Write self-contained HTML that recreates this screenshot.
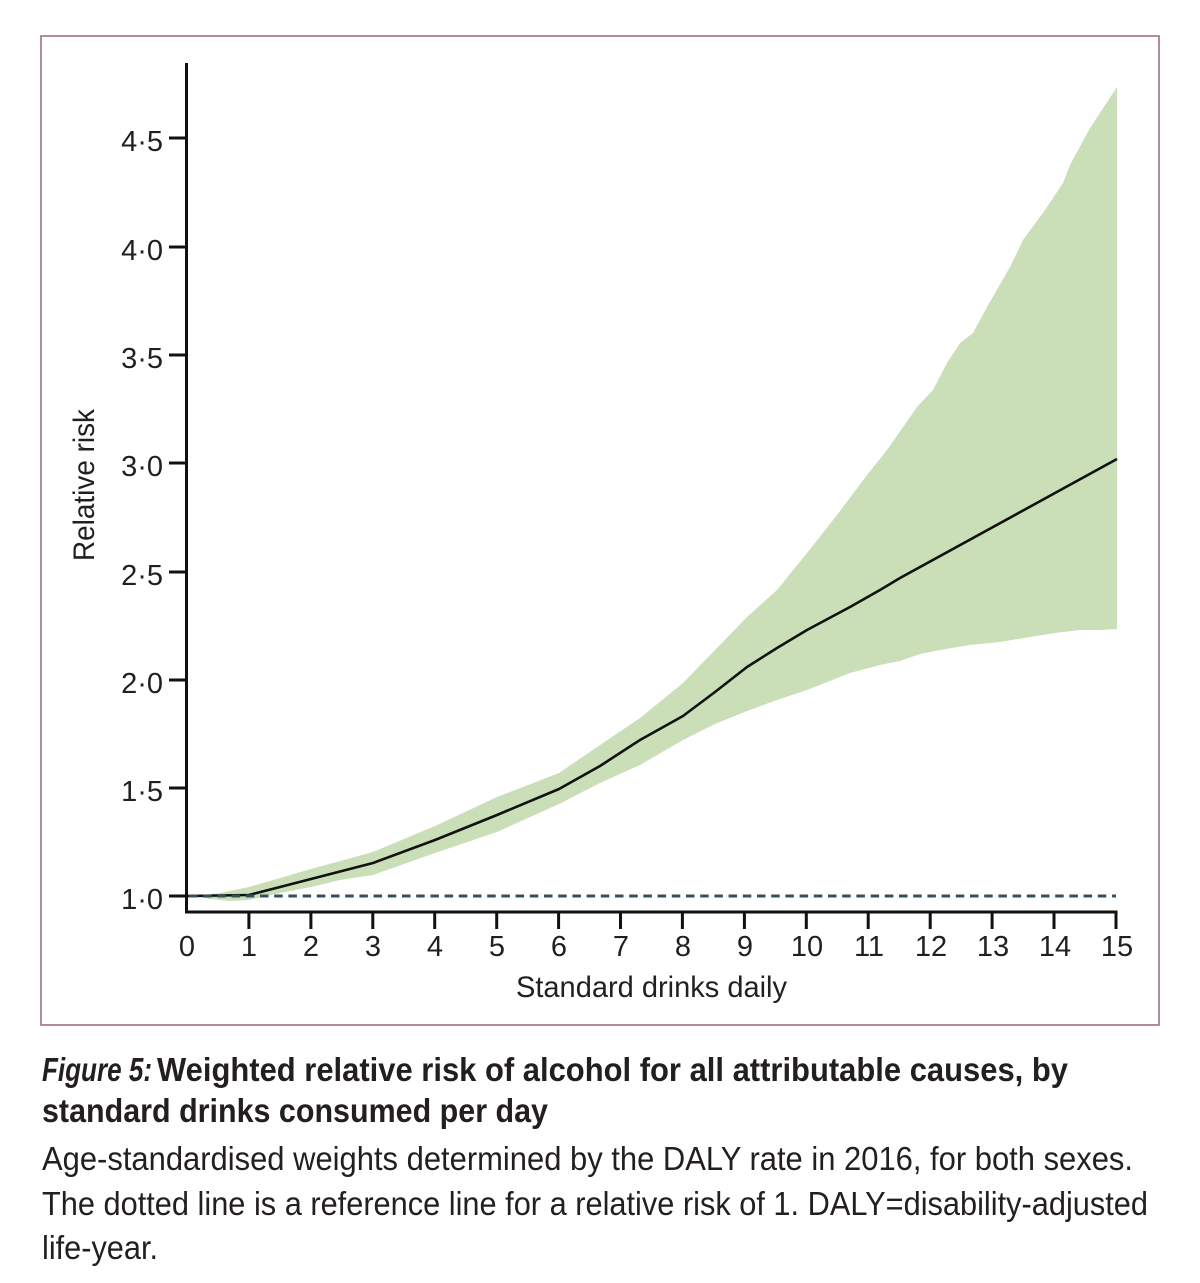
<!DOCTYPE html>
<html>
<head>
<meta charset="utf-8">
<style>
  html,body{margin:0;padding:0;background:#ffffff;}
  svg{display:block;}
  text{font-family:"Liberation Sans", Arial, sans-serif; fill:#231f20;}
</style>
</head>
<body>
<svg width="1200" height="1283" viewBox="0 0 1200 1283" xmlns="http://www.w3.org/2000/svg">
  <rect x="0" y="0" width="1200" height="1283" fill="#ffffff"/>
  <!-- frame -->
  <rect x="41" y="36" width="1118" height="989" fill="none" stroke="#a1707a" stroke-width="1.6"/>

  <!-- uncertainty band -->
  <path fill="#cadfb7" d="M197,896 L220,893 L249,887 L280,878 L311,869 L373,852 L435,826 L497,797 L559,773 L600,745 L640,718 L683,683 L715,650 L747,617 L777,590 L807,553 L837,515 L867,475 L887,450 L917,407 L933,390 L947,363 L960,343 L973,333 L987,307 L1010,267 L1023,240 L1045,210 L1063,183 L1070,165 L1090,128 L1117,87
  L1117,629 L1100,630 L1080,630 L1055,633 L1030,637 L1000,642 L970,645 L940,650 L920,654 L900,661 L880,665 L850,673 L807,690 L777,700 L747,711 L715,724 L683,740 L640,765 L600,783 L559,804 L497,832 L435,853 L373,875 L340,880 L311,887 L280,893 L249,900 L230,901 L210,899 L197,897 Z"/>

  <!-- main line -->
  <polyline fill="none" stroke="#111111" stroke-width="2.6" stroke-linejoin="round"
    points="187,896 249,895 280,887 311,879 373,863 435,840 497,815 559,789 600,766 640,740 683,716 715,692 747,667 777,648 807,630 850,607 880,590 900,578 1117,459"/>

  <!-- reference dashed line -->
  <line x1="189" y1="896" x2="1116" y2="896" stroke="#34505e" stroke-width="3" stroke-dasharray="8.5 5.7"/>

  <!-- axes -->
  <line x1="186.5" y1="63" x2="186.5" y2="913.5" stroke="#111" stroke-width="3"/>
  <line x1="185" y1="912" x2="1117.5" y2="912" stroke="#111" stroke-width="3"/>

  <!-- y ticks -->
  <g stroke="#111" stroke-width="3">
    <line x1="169" y1="896" x2="186" y2="896"/>
    <line x1="169" y1="788" x2="186" y2="788"/>
    <line x1="169" y1="680" x2="186" y2="680"/>
    <line x1="169" y1="572" x2="186" y2="572"/>
    <line x1="169" y1="463" x2="186" y2="463"/>
    <line x1="169" y1="355" x2="186" y2="355"/>
    <line x1="169" y1="247" x2="186" y2="247"/>
    <line x1="169" y1="138" x2="186" y2="138"/>
  </g>
  <g font-size="29" text-anchor="end">
    <text x="163" y="909">1·0</text>
    <text x="163" y="801">1·5</text>
    <text x="163" y="693">2·0</text>
    <text x="163" y="585">2·5</text>
    <text x="163" y="476">3·0</text>
    <text x="163" y="368">3·5</text>
    <text x="163" y="260">4·0</text>
    <text x="163" y="151">4·5</text>
  </g>

  <!-- x ticks -->
  <g stroke="#111" stroke-width="3">
    <line x1="248.9" y1="912" x2="248.9" y2="929"/>
    <line x1="310.9" y1="912" x2="310.9" y2="929"/>
    <line x1="372.8" y1="912" x2="372.8" y2="929"/>
    <line x1="434.7" y1="912" x2="434.7" y2="929"/>
    <line x1="496.7" y1="912" x2="496.7" y2="929"/>
    <line x1="558.6" y1="912" x2="558.6" y2="929"/>
    <line x1="620.5" y1="912" x2="620.5" y2="929"/>
    <line x1="682.4" y1="912" x2="682.4" y2="929"/>
    <line x1="744.4" y1="912" x2="744.4" y2="929"/>
    <line x1="806.3" y1="912" x2="806.3" y2="929"/>
    <line x1="868.2" y1="912" x2="868.2" y2="929"/>
    <line x1="930.2" y1="912" x2="930.2" y2="929"/>
    <line x1="992.1" y1="912" x2="992.1" y2="929"/>
    <line x1="1054" y1="912" x2="1054" y2="929"/>
    <line x1="1116" y1="910.5" x2="1116" y2="929"/>
  </g>
  <g font-size="29" text-anchor="middle">
    <text x="187" y="956">0</text>
    <text x="249" y="956">1</text>
    <text x="311" y="956">2</text>
    <text x="373" y="956">3</text>
    <text x="435" y="956">4</text>
    <text x="497" y="956">5</text>
    <text x="559" y="956">6</text>
    <text x="621" y="956">7</text>
    <text x="683" y="956">8</text>
    <text x="745" y="956">9</text>
    <text x="807" y="956">10</text>
    <text x="869" y="956">11</text>
    <text x="931" y="956">12</text>
    <text x="993" y="956">13</text>
    <text x="1055" y="956">14</text>
    <text x="1117" y="956">15</text>
  </g>

  <!-- axis titles -->
  <text x="516" y="997" font-size="30" textLength="271" lengthAdjust="spacingAndGlyphs">Standard drinks daily</text>
  <text transform="translate(94,561) rotate(-90)" x="0" y="0" font-size="30" textLength="152" lengthAdjust="spacingAndGlyphs">Relative risk</text>

  <!-- caption -->
  <text x="42" y="1081" font-size="33" font-style="italic" font-weight="bold" textLength="110" lengthAdjust="spacingAndGlyphs">Figure 5:</text>
  <text x="157" y="1081" font-size="33" font-weight="bold" textLength="911" lengthAdjust="spacingAndGlyphs">Weighted relative risk of alcohol for all attributable causes, by</text>
  <text x="42" y="1122" font-size="33" font-weight="bold" textLength="506" lengthAdjust="spacingAndGlyphs">standard drinks consumed per day</text>
  <text x="42" y="1170" font-size="33" textLength="1091" lengthAdjust="spacingAndGlyphs">Age-standardised weights determined by the DALY rate in 2016, for both sexes.</text>
  <text x="42" y="1215" font-size="33" textLength="1106" lengthAdjust="spacingAndGlyphs">The dotted line is a reference line for a relative risk of 1. DALY=disability-adjusted</text>
  <text x="42" y="1259" font-size="33" textLength="116" lengthAdjust="spacingAndGlyphs">life-year.</text>
</svg>
</body>
</html>
